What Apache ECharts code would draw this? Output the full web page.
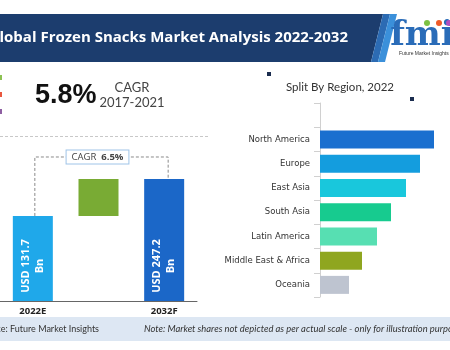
<!DOCTYPE html>
<html><head><meta charset="utf-8">
<script src="https://cdn.jsdelivr.net/npm/echarts@6/dist/echarts.min.js"></script>
<style>html,body{margin:0;padding:0;background:#fff}#c{width:450px;height:350px}</style>
</head><body><div id="c"></div>
<script>
// Market size: 2022 estimate vs 2032 forecast (USD Bn)
const periods = ['2022E', '', '2032F'];
const marketSize = [131.7, 247.2];
const cagrForecast = '6.5%';
const cagrHistoric = '5.8%';
const historicRange = '2017-2021';

// Regional split, 2022 (relative share, illustrative scale)
const regions = ['North America', 'Europe', 'East Asia', 'South Asia', 'Latin America', 'Middle East & Africa', 'Oceania'];
const regionShare = [114, 100, 86, 71, 57, 42, 29];
const regionColors = ['#1a6fcf', '#149dde', '#19c7dc', '#17cb8f', '#57dfb2', '#8fa61f', '#bec4d0'];

// value scale of the size panel starts below zero so both bars stay readable
const scaleFloor = -134;
const scaleCeil = 369;

const chart = echarts.init(document.getElementById('c'), null, { renderer: 'canvas' });

const sizeItems = [
  { value: [0, scaleFloor, marketSize[0]], color: '#1fa8ea', label: 'USD ' + marketSize[0].toFixed(1) + '\nBn' },
  { value: [1, marketSize[0], marketSize[1]], color: '#79ab34' },
  { value: [2, scaleFloor, marketSize[1]], color: '#1b67c8', label: 'USD ' + marketSize[1].toFixed(1) + '\nBn' }
];

function renderSizeBar(params, api) {
  const item = sizeItems[params.dataIndex];
  const c = api.value(0), lo = api.value(1), hi = api.value(2);
  const top = api.coord([c, hi]);
  const bottom = api.coord([c, lo]);
  const w = 40;
  const children = [{
    type: 'rect',
    shape: { x: top[0] - w / 2, y: top[1], width: w, height: bottom[1] - top[1] },
    style: { fill: item.color }
  }];
  if (item.label) {
    children.push({
      type: 'text',
      x: top[0], y: bottom[1] - 35,
      rotation: Math.PI / 2,
      style: {
        text: item.label, fill: '#fff', align: 'center', verticalAlign: 'middle',
        font: 'bold 11px "Open Sans", sans-serif', lineHeight: 14
      }
    });
  }
  return { type: 'group', children: children };
}

function renderBracket(params, api) {
  const a = api.coord([0, marketSize[0]]);
  const b = api.coord([2, marketSize[1]]);
  const mid = api.coord([1, marketSize[1]]);
  const yTop = b[1] - 22;
  const xa = a[0] + 2, xb = b[0] + 4;
  return {
    type: 'group',
    children: [
      {
        type: 'polyline',
        shape: { points: [[xa, a[1]], [xa, yTop], [xb, yTop], [xb, b[1]]] },
        style: { stroke: '#8a8a8a', lineWidth: 1, lineDash: [3, 2], fill: null }
      },
      {
        type: 'text',
        x: mid[0] - 1, y: yTop,
        style: {
          text: '{a|CAGR  }{b|' + cagrForecast + '}',
          align: 'center', verticalAlign: 'middle',
          backgroundColor: '#fff', borderColor: '#9fc4e8', borderWidth: 1,
          padding: [2, 5, 1, 5],
          rich: {
            a: { font: '9.5px "Open Sans", sans-serif', fill: '#444' },
            b: { font: 'bold 9.5px "Open Sans", sans-serif', fill: '#444' }
          }
        }
      }
    ]
  };
}

const option = {
  animation: false,
  backgroundColor: '#fff',
  grid: [
    { left: -6, top: 140, width: 203, height: 161 },
    { left: 320, top: 103, width: 130, height: 194 }
  ],
  xAxis: [
    {
      gridIndex: 0, type: 'category', data: periods,
      axisLine: { onZero: false, lineStyle: { color: '#666', width: 1 } },
      axisTick: { show: false },
      axisLabel: { color: '#222', fontWeight: 'bold', fontSize: 9.5, margin: 5, fontFamily: '"Open Sans", sans-serif' }
    },
    { gridIndex: 1, type: 'value', min: 0, max: 130, show: false }
  ],
  yAxis: [
    { gridIndex: 0, type: 'value', min: scaleFloor, max: scaleCeil, show: false },
    {
      gridIndex: 1, type: 'category', inverse: true, data: [''].concat(regions),
      axisLine: { lineStyle: { color: '#d0d0d0' } },
      axisTick: { show: true, length: 6, lineStyle: { color: '#d0d0d0' } },
      axisLabel: { color: '#333', fontSize: 8.5, margin: 10, fontFamily: '"DejaVu Sans", sans-serif' }
    }
  ],
  series: [
    {
      type: 'custom', xAxisIndex: 0, yAxisIndex: 0,
      renderItem: renderSizeBar,
      data: sizeItems.map(d => d.value), z: 2
    },
    {
      type: 'custom', xAxisIndex: 0, yAxisIndex: 0,
      renderItem: renderBracket,
      data: [[0, marketSize[0], marketSize[1]]], z: 3
    },
    {
      type: 'bar', xAxisIndex: 1, yAxisIndex: 1, barWidth: 18,
      data: ['-'].concat(regionShare.map((v, i) => ({ value: v, itemStyle: { color: regionColors[i] } })))
    }
  ],
  graphic: [
    // header banner
    { type: 'polygon', shape: { points: [[0, 14], [383, 14], [371, 62], [0, 62]] }, style: { fill: '#1c3d6e' } },
    { type: 'polygon', shape: { points: [[383, 14], [390, 14], [378, 62], [371, 62]] }, style: { fill: '#2c6bb3' } },
    { type: 'polygon', shape: { points: [[390, 14], [397, 14], [385, 62], [378, 62]] }, style: { fill: '#3b90da' } },
    { type: 'text', x: 348, y: 38, style: { text: 'Global Frozen Snacks Market Analysis 2022-2032', fill: '#fff', align: 'right', verticalAlign: 'middle', font: 'bold 15px "Open Sans", sans-serif' } },
    // logo
    { type: 'text', x: 422, y: 36, style: { text: 'fmi', fill: '#2a6cb8', align: 'center', verticalAlign: 'middle', font: 'bold 34px "DejaVu Serif", serif' } },
    { type: 'circle', shape: { cx: 427, cy: 23, r: 3 }, style: { fill: '#7cc142' } },
    { type: 'circle', shape: { cx: 439, cy: 23, r: 3 }, style: { fill: '#f05a28' } },
    { type: 'circle', shape: { cx: 449, cy: 23, r: 3 }, style: { fill: '#b04fbf' } },
    { type: 'text', x: 399, y: 54, style: { text: 'Future Market Insights', fill: '#333', align: 'left', verticalAlign: 'middle', font: '5px "Liberation Sans", sans-serif' } },
    // side markers
    { type: 'rect', shape: { x: 0, y: 75, width: 2, height: 5 }, style: { fill: '#8cc152' } },
    { type: 'rect', shape: { x: 0, y: 92, width: 2, height: 5 }, style: { fill: '#e9573f' } },
    { type: 'rect', shape: { x: 0, y: 109, width: 2, height: 5 }, style: { fill: '#8e5ea2' } },
    // historic CAGR
    { type: 'text', x: 35, y: 96, style: { text: cagrHistoric, fill: '#111', align: 'left', verticalAlign: 'middle', font: 'bold 27px "Liberation Sans", sans-serif' } },
    { type: 'text', x: 132, y: 88, style: { text: 'CAGR', fill: '#444', align: 'center', verticalAlign: 'middle', font: '13px "Lato", sans-serif' } },
    { type: 'text', x: 132, y: 103, style: { text: historicRange, fill: '#444', align: 'center', verticalAlign: 'middle', font: '13px "Lato", sans-serif' } },
    { type: 'line', shape: { x1: 0, y1: 136.5, x2: 210, y2: 136.5 }, style: { stroke: '#c8c8c8', lineWidth: 1, lineDash: [3, 2] } },
    // regional panel title
    { type: 'text', x: 340, y: 87, style: { text: 'Split By Region, 2022', fill: '#333', align: 'center', verticalAlign: 'middle', font: '11.5px "Lato", sans-serif' } },
    { type: 'rect', shape: { x: 267, y: 72, width: 4, height: 4 }, style: { fill: '#1b2d4f' } },
    { type: 'rect', shape: { x: 410, y: 97, width: 4, height: 4 }, style: { fill: '#1b2d4f' } },
    // footer
    { type: 'rect', shape: { x: 0, y: 317, width: 450, height: 24 }, style: { fill: '#dde7f3' } },
    { type: 'text', x: 99, y: 329, style: { text: 'Source: Future Market Insights', fill: '#333', align: 'right', verticalAlign: 'middle', font: '9px "Lato", sans-serif' } },
    { type: 'text', x: 144, y: 329, style: { text: 'Note: Market shares not depicted as per actual scale - only for illustration purposes', fill: '#333', align: 'left', verticalAlign: 'middle', font: 'italic 9.4px "Lato", sans-serif' } }
  ]
};
chart.setOption(option);
</script>
</body></html>
